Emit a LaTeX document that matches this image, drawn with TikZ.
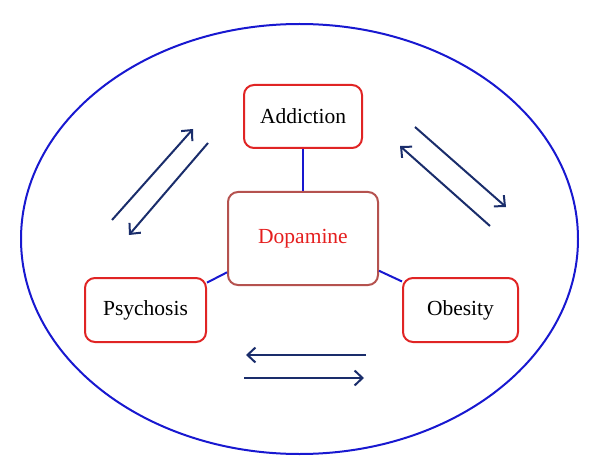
\documentclass[tikz,border=0pt]{standalone}
\usepackage{fontspec}
\setmainfont{Liberation Serif}
\usetikzlibrary{arrows.meta}
\definecolor{boxred}{HTML}{E02424}
\definecolor{dopborder}{HTML}{B5524F}
\definecolor{doptext}{HTML}{E51F1F}
\definecolor{linkblue}{HTML}{1818D0}
\definecolor{navy}{HTML}{1A2D6B}
\begin{document}
\begin{tikzpicture}[x=1pt,y=-1pt,
  box/.style={draw=boxred, line width=2pt, rounded corners=10pt, fill=white,
    inner sep=0pt, font=\fontsize{21.5}{26}\selectfont},
  link/.style={draw=linkblue, line width=2pt},
  pair/.style={draw=navy, line width=2pt, -{Straight Barb[length=8pt,width=15pt,line width=2pt]}}]
\useasboundingbox (0,0) rectangle (600,476);
\draw[linkblue, line width=2pt] (299.5,239) ellipse [x radius=278.5, y radius=215];
\node[box, minimum width=118pt, minimum height=63pt] (add) at (303,116.5) {Addiction};
\node[box, draw=dopborder, text=doptext, minimum width=150pt, minimum height=93pt] (dop) at (303,238.5) {Dopamine};
\node[box, minimum width=121pt, minimum height=64pt] (psy) at (145.5,310) {Psychosis};
\node[box, minimum width=115pt, minimum height=64pt] (obe) at (460.5,310) {Obesity};
\draw[link] (add.south) -- (dop.north);
\draw[link] (psy.24) -- (dop.204);
\draw[link] (dop.-23) -- (obe.154);
% left pair
\coordinate (l1s) at (112,220); \coordinate (l1e) at (193,129);
\coordinate (l2s) at (208,143); \coordinate (l2e) at (129,235);
\draw[pair] (l1s) -- (l1e);
\draw[pair] (l2s) -- (l2e);
% right pair
\coordinate (r1s) at (415,127); \coordinate (r1e) at (506,207);
\coordinate (r2s) at (490,226); \coordinate (r2e) at (400,146);
\draw[pair] (r1s) -- (r1e);
\draw[pair] (r2s) -- (r2e);
% bottom pair
\coordinate (b1s) at (366,355); \coordinate (b1e) at (246,355);
\coordinate (b2s) at (244,378); \coordinate (b2e) at (364,378);
\draw[pair] (b1s) -- (b1e);
\draw[pair] (b2s) -- (b2e);
\end{tikzpicture}
\end{document}
